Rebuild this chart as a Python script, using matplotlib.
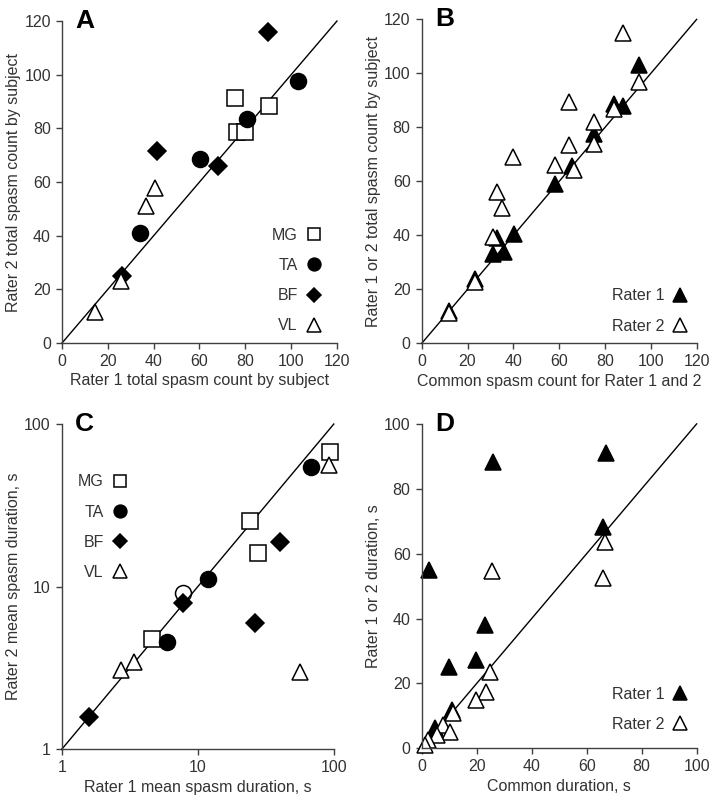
import matplotlib
matplotlib.use("Agg")
from matplotlib import pyplot as plt
from matplotlib.ticker import FixedLocator, NullLocator, FixedFormatter

plt.rcParams['font.family'] = ['Liberation Sans', 'DejaVu Sans']
plt.rcParams['font.size'] = 11.5

# ---- Panel A data: total spasm count by subject ----
a_mg_x = [75.5, 90.5, 76.3, 80.0]
a_mg_y = [91.5, 88.4, 78.5, 78.5]
a_ta_x = [102.8, 80.6, 60.3, 34.0]
a_ta_y = [97.5, 83.4, 68.5, 40.9]
a_bf_x = [89.7, 41.6, 68.0, 26.0]
a_bf_y = [115.8, 71.4, 65.8, 25.0]
a_vl_x = [40.6, 36.7, 25.8, 14.4]
a_vl_y = [57.7, 51.2, 23.1, 11.7]

# ---- Panel B data: common vs rater count ----
b_r1_x = [95.0, 84.0, 88.0, 58.2, 65.5, 75.4, 40.3, 33.0, 31.3, 36.0, 12.0, 23.3]
b_r1_y = [103.0, 88.5, 87.9, 59.0, 65.5, 77.5, 40.5, 38.9, 33.0, 34.0, 12.0, 24.0]
b_r2_x = [87.8, 95.0, 84.0, 75.4, 75.4, 64.2, 64.2, 58.2, 66.5, 40.0, 33.0, 35.0, 31.0, 23.3, 12.0]
b_r2_y = [114.8, 96.9, 86.7, 82.1, 74.0, 89.5, 73.4, 66.0, 64.2, 69.1, 56.1, 50.0, 39.3, 22.8, 11.1]

# ---- Panel C data: mean spasm duration (log-log) ----
c_mg_x = [94.4, 24.4, 27.8, 4.58]
c_mg_y = [67.5, 25.4, 16.2, 4.74]
c_ta_x = [68.5, 11.9, 5.96]
c_ta_y = [54.1, 11.2, 4.58]
c_open_x = [7.8]
c_open_y = [9.1]
c_bf_x = [40.5, 7.73, 26.3, 1.6]
c_bf_y = [18.9, 7.9, 6.0, 1.57]
c_vl_x = [92.2, 56.2, 3.4, 2.71]
c_vl_y = [55.9, 3.0, 3.45, 3.07]

# ---- Panel D data: common vs rater duration ----
d_r1_x = [67.0, 25.8, 66.0, 2.8, 23.0, 19.7, 10.0, 4.8, 10.9]
d_r1_y = [90.9, 88.4, 68.3, 55.0, 38.0, 27.2, 25.2, 6.2, 11.8]
d_r2_x = [66.7, 66.0, 25.5, 24.8, 23.4, 19.7, 11.3, 7.9, 10.3, 5.5, 2.4, 1.2]
d_r2_y = [63.7, 52.4, 54.5, 23.6, 17.5, 14.9, 10.8, 7.2, 5.1, 4.1, 2.6, 1.0]

text_col = "#333333"
spine_col = "#404040"
ew = 1.1

sq = dict(marker="s", ms=11, mfc="white", mec="black", mew=ew, ls="none")
ci = dict(marker="o", ms=11.5, mfc="black", mec="black", mew=ew, ls="none")
di = dict(marker="D", ms=8.7, mfc="black", mec="black", mew=ew, ls="none")
tr_open = dict(marker="^", ms=12, mfc="white", mec="black", mew=ew, ls="none")
tr_fill = dict(marker="^", ms=12, mfc="black", mec="black", mew=ew, ls="none")


def style(ax):
    for s in ["top", "right"]:
        ax.spines[s].set_visible(False)
    for s in ["left", "bottom"]:
        ax.spines[s].set_color(spine_col)
        ax.spines[s].set_linewidth(1.0)
    ax.tick_params(direction="out", length=4, width=1, colors=spine_col,
                   labelcolor=text_col, labelsize=11.5, pad=4)
    ax.xaxis.label.set_color(text_col)
    ax.yaxis.label.set_color(text_col)


def letter(ax, s):
    ax.text(0.05, 1.0, s, transform=ax.transAxes, fontsize=19,
            fontweight="bold", va="center", ha="left", color="black")


def leg(ax, loc, anchor):
    lg = ax.legend(loc=loc, bbox_to_anchor=anchor, frameon=False,
                   markerfirst=False, markerscale=0.8, borderpad=0,
                   borderaxespad=0, labelspacing=0.95, handletextpad=0.5,
                   handlelength=1.0, fontsize=11.5)
    for t in lg.get_texts():
        t.set_color(text_col)


fig = plt.figure(figsize=(7.16, 8.06), dpi=100)
axA = fig.add_axes([0.0866, 0.5744, 0.384, 0.3995])
axB = fig.add_axes([0.589, 0.574, 0.384, 0.402])
axC = fig.add_axes([0.0862, 0.0703, 0.380, 0.4036])
axD = fig.add_axes([0.589, 0.0716, 0.384, 0.4025])

# Panel A
axA.plot([0, 120], [0, 120], color="black", lw=1.0)
axA.plot(a_mg_x, a_mg_y, label="MG", **sq)
axA.plot(a_ta_x, a_ta_y, label="TA", **ci)
axA.plot(a_bf_x, a_bf_y, label="BF", **di)
axA.plot(a_vl_x, a_vl_y, label="VL", **tr_open)
axA.set_xlim(0, 120)
axA.set_ylim(0, 120)
axA.set_xticks(range(0, 121, 20))
axA.set_yticks(range(0, 121, 20))
axA.set_xlabel("Rater 1 total spasm count by subject", labelpad=3)
axA.set_ylabel("Rater 2 total spasm count by subject", labelpad=2)
style(axA)
letter(axA, "A")
leg(axA, "lower right", (0.945, 0.03))

# Panel B
axB.plot([0, 120], [0, 120], color="black", lw=1.0)
axB.plot(b_r1_x, b_r1_y, label="Rater 1", **tr_fill)
axB.plot(b_r2_x, b_r2_y, label="Rater 2", **tr_open)
axB.set_xlim(0, 120)
axB.set_ylim(0, 120)
axB.set_xticks(range(0, 121, 20))
axB.set_yticks(range(0, 121, 20))
axB.set_xlabel("Common spasm count for Rater 1 and 2", labelpad=3)
axB.set_ylabel("Rater 1 or 2 total spasm count by subject", labelpad=2)
style(axB)
letter(axB, "B")
leg(axB, "lower right", (0.97, 0.03))

# Panel C
axC.plot([1, 100], [1, 100], color="black", lw=1.0)
axC.plot(c_mg_x, c_mg_y, label="MG", **sq)
axC.plot(c_ta_x, c_ta_y, label="TA", **ci)
axC.plot(c_bf_x, c_bf_y, label="BF", **di)
axC.plot(c_vl_x, c_vl_y, label="VL", **tr_open)
axC.plot(c_open_x, c_open_y, marker="o", ms=11.5, mfc="white", mec="black",
         mew=ew, ls="none", zorder=1.9)
axC.set_xscale("log")
axC.set_yscale("log")
axC.set_xlim(1, 100)
axC.set_ylim(1, 100)
axC.xaxis.set_major_locator(FixedLocator([1, 10, 100]))
axC.xaxis.set_major_formatter(FixedFormatter(["1", "10", "100"]))
axC.yaxis.set_major_locator(FixedLocator([1, 10, 100]))
axC.yaxis.set_major_formatter(FixedFormatter(["1", "10", "100"]))
axC.xaxis.set_minor_locator(NullLocator())
axC.yaxis.set_minor_locator(NullLocator())
axC.set_xlabel("Rater 1 mean spasm duration, s", labelpad=3)
axC.set_ylabel("Rater 2 mean spasm duration, s", labelpad=2)
style(axC)
letter(axC, "C")
leg(axC, "upper left", (0.06, 0.845))

# Panel D
axD.plot([0, 100], [0, 100], color="black", lw=1.0)
axD.plot(d_r1_x, d_r1_y, label="Rater 1", **tr_fill)
axD.plot(d_r2_x, d_r2_y, label="Rater 2", **tr_open)
axD.set_xlim(0, 100)
axD.set_ylim(0, 100)
axD.set_xticks(range(0, 101, 20))
axD.set_yticks(range(0, 101, 20))
axD.set_xlabel("Common duration, s", labelpad=3)
axD.set_ylabel("Rater 1 or 2 duration, s", labelpad=2)
style(axD)
letter(axD, "D")
leg(axD, "lower right", (0.97, 0.05))

for ax in [axA, axB, axC, axD]:
    for ln in ax.lines:
        ln.set_clip_on(False)

fig.savefig("out.png", dpi=100)
